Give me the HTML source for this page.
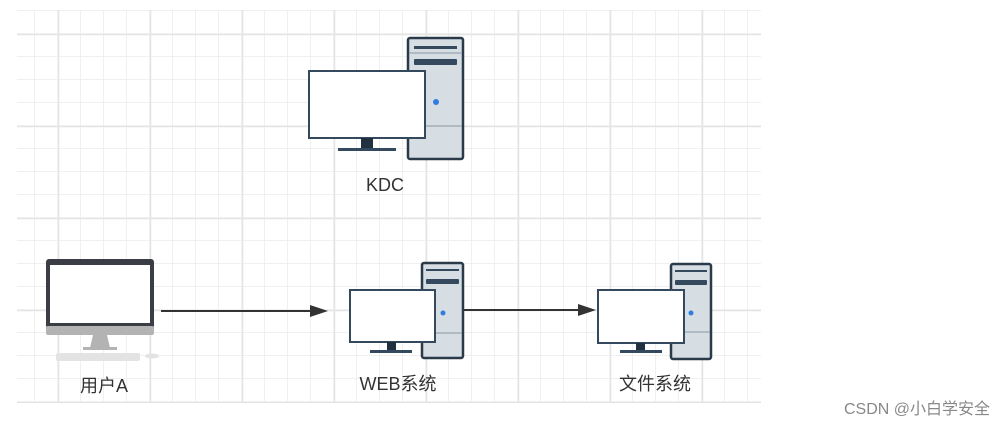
<!DOCTYPE html>
<html><head><meta charset="utf-8"><style>
body{margin:0;background:#fff;width:1006px;height:427px;overflow:hidden;font-family:"Liberation Sans","Noto Sans CJK SC",sans-serif}
</style></head><body>
<svg width="1006" height="427" xmlns="http://www.w3.org/2000/svg" style="position:absolute;left:0;top:0">
<defs>
<pattern id="g" x="12" y="11" width="23" height="23" patternUnits="userSpaceOnUse">
<path d="M23 0V23M0 23H23" stroke="#ececec" stroke-width="1.5"/></pattern>
<pattern id="G" x="58" y="34" width="92" height="92" patternUnits="userSpaceOnUse">
<path d="M0.5 0V92M0 0.5H92" stroke="#e4e4e4" stroke-width="1.5"/></pattern>
</defs>
<rect x="17" y="10" width="744" height="393" fill="url(#g)"/>
<rect x="17" y="10" width="744" height="393" fill="url(#G)"/>

<g>
<rect x="408" y="38" width="55" height="121" rx="2" fill="#d6dde3" stroke="#2b3a48" stroke-width="2.5"/>
<rect x="414" y="46" width="43" height="3" fill="#34495e"/>
<line x1="409" y1="53" x2="462" y2="53" stroke="#8a97a3"/>
<rect x="414" y="59" width="43" height="6" rx="1" fill="#34495e"/>
<circle cx="436" cy="102" r="3" fill="#2f7de1"/>
<line x1="409" y1="126" x2="462" y2="126" stroke="#8a97a3"/>
<rect x="309" y="71" width="116" height="67" fill="#fff" stroke="#34495e" stroke-width="2"/>
<rect x="361" y="138" width="12" height="10" fill="#22313f"/>
<rect x="338" y="148" width="58" height="3" fill="#34495e"/>
</g>
<text x="385" y="191" font-size="18" fill="#333" text-anchor="middle">KDC</text>

<rect x="46" y="259" width="108" height="70" rx="3" fill="#3a3d44"/>
<rect x="50" y="265" width="100" height="58" fill="#fff"/>
<rect x="46" y="326" width="108" height="9" rx="2" fill="#b3b3b3"/>
<path d="M93 335H107L110 348H90Z" fill="#b3b3b3"/>
<rect x="83" y="347" width="34" height="3" fill="#b3b3b3"/>
<rect x="56" y="353" width="84" height="8" rx="2" fill="#e3e3e3"/>
<ellipse cx="152" cy="356" rx="7" ry="2.5" fill="#e3e3e3"/>
<text x="104" y="392" font-size="18" fill="#333" text-anchor="middle">用户A</text>

<line x1="161" y1="311" x2="312" y2="311" stroke="#333" stroke-width="2"/>
<path d="M328 311L310 305V317Z" fill="#333"/>
<line x1="463" y1="310" x2="580" y2="310" stroke="#333" stroke-width="2"/>
<path d="M596 310L578 304V316Z" fill="#333"/>

<g>
<rect x="422" y="263" width="41" height="95" rx="2" fill="#d6dde3" stroke="#2b3a48" stroke-width="2.5"/>
<rect x="426" y="269" width="33" height="2" fill="#34495e"/>
<rect x="426" y="279" width="33" height="5" rx="1" fill="#34495e"/>
<circle cx="443" cy="313" r="2.5" fill="#2f7de1"/>
<line x1="423" y1="333" x2="462" y2="333" stroke="#8a97a3"/>
<rect x="350" y="290" width="85" height="52" fill="#fff" stroke="#34495e" stroke-width="2"/>
<rect x="387" y="342" width="9" height="8" fill="#22313f"/>
<rect x="370" y="350" width="42" height="3" fill="#34495e"/>
</g>
<text x="398" y="390" font-size="18" fill="#333" text-anchor="middle">WEB系统</text>

<g>
<rect x="671" y="264" width="40" height="95" rx="2" fill="#d6dde3" stroke="#2b3a48" stroke-width="2.5"/>
<rect x="675" y="270" width="32" height="2" fill="#34495e"/>
<rect x="675" y="280" width="32" height="5" rx="1" fill="#34495e"/>
<circle cx="691" cy="313" r="2.5" fill="#2f7de1"/>
<line x1="672" y1="332" x2="710" y2="332" stroke="#8a97a3"/>
<rect x="598" y="290" width="86" height="53" fill="#fff" stroke="#34495e" stroke-width="2"/>
<rect x="636" y="343" width="9" height="8" fill="#22313f"/>
<rect x="620" y="350" width="42" height="3" fill="#34495e"/>
</g>
<text x="655" y="390" font-size="18" fill="#333" text-anchor="middle">文件系统</text>

<text x="990" y="414" font-size="16" fill="#888" text-anchor="end">CSDN @小白学安全</text>
</svg>
</body></html>
